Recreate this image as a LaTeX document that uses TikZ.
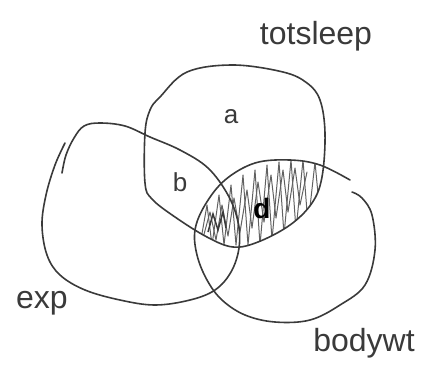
\documentclass[tikz,border=0pt]{standalone}
\usepackage{fontspec}
\setmainfont{Liberation Sans}
\definecolor{pen}{HTML}{3A3A3A}
\begin{document}
\begin{tikzpicture}[x=1pt,y=-1pt,
  penline/.style={draw=pen,line width=1.6pt,line cap=round,line join=round},
  scrib/.style={draw=pen!80,line width=1pt,line cap=round,line join=round},
  lbl/.style={text=pen,inner sep=0pt,font=\fontsize{32}{34}\selectfont},
  inl/.style={text=pen,inner sep=0pt,font=\fontsize{26}{28}\selectfont}]
\useasboundingbox (0,0) rectangle (425,373);
% shaded lens (intersection of totsleep and bodywt)
\begin{scope}
  \clip plot[smooth cycle,tension=0.6] coordinates {(145,183) (145,133) (150,110) (160,97) (187,72) (233,65) (283,72) (307,83) (320,100) (325,133) (322,177) (312,203) (290,225) (258,242) (233,247) (207,237) (175,217) (152,199)};
  \clip plot[smooth cycle,tension=0.6] coordinates {(350,180) (320,165) (290,160) (255,163) (225,180) (205,205) (195,230) (197,255) (207,280) (222,300) (245,315) (275,322) (310,320) (340,305) (365,285) (375,250) (372,215) (362,198) (352,192)};
  \draw[scrib] (200,245) -- (207,205) -- (212,245) -- (219,195) -- (224,245) -- (231,185) -- (236,245) -- (243,175) -- (248,245) -- (255,170) -- (260,245) -- (267,165) -- (272,240) -- (279,162) -- (284,235) -- (291,160) -- (296,230) -- (303,160) -- (308,225) -- (315,162) -- (320,215) -- (327,165);
  \draw[scrib] (203,238) -- (210,212) -- (216,240) -- (222,205) -- (228,236) -- (234,198) -- (240,232) -- (247,190) -- (252,228) -- (258,182) -- (264,222) -- (271,175) -- (276,218) -- (283,170) -- (288,212) -- (295,168) -- (300,205) -- (307,172);
  \draw[pen,line width=1.5pt] (208,232) -- (213,214) -- (218,230) -- (223,212) -- (226,228);
\end{scope}
% totsleep
\path[penline] plot[smooth cycle,tension=0.6] coordinates {(145,183) (145,133) (150,110) (160,97) (187,72) (233,65) (283,72) (307,83) (320,100) (325,133) (322,177) (312,203) (290,225) (258,242) (233,247) (207,237) (175,217) (152,199)};
% exp
\path[penline] plot[smooth,tension=0.6] coordinates {(65,143) (55,165) (46,195) (42,225) (47,255) (60,275) (85,290) (120,300) (155,305) (190,300) (215,290) (231,272) (239,248) (238,222) (228,195) (208,168) (180,150) (150,137) (125,126) (100,123) (84,126) (74,138) (66,155) (62,173)};
% bodywt
\path[penline] plot[smooth,tension=0.6] coordinates {(350,180) (320,165) (290,160) (255,163) (225,180) (205,205) (195,230) (197,255) (207,280) (222,300) (245,315) (275,322) (310,320) (340,305) (365,285) (375,250) (372,215) (362,198) (352,192)};
% labels
\node[lbl] (tot) at (316,36) {totsleep};
\node[lbl] (exp) at (42,303) {exp};
\node[lbl] (bw) at (364,343) {bodywt};
\node[inl] (a) at (231,117) {a};
\node[inl] (b) at (180,182) {b};
\node[inl,text=black,font=\bfseries\fontsize{28}{30}\selectfont] (d) at (262,208) {d};
\end{tikzpicture}
\end{document}
